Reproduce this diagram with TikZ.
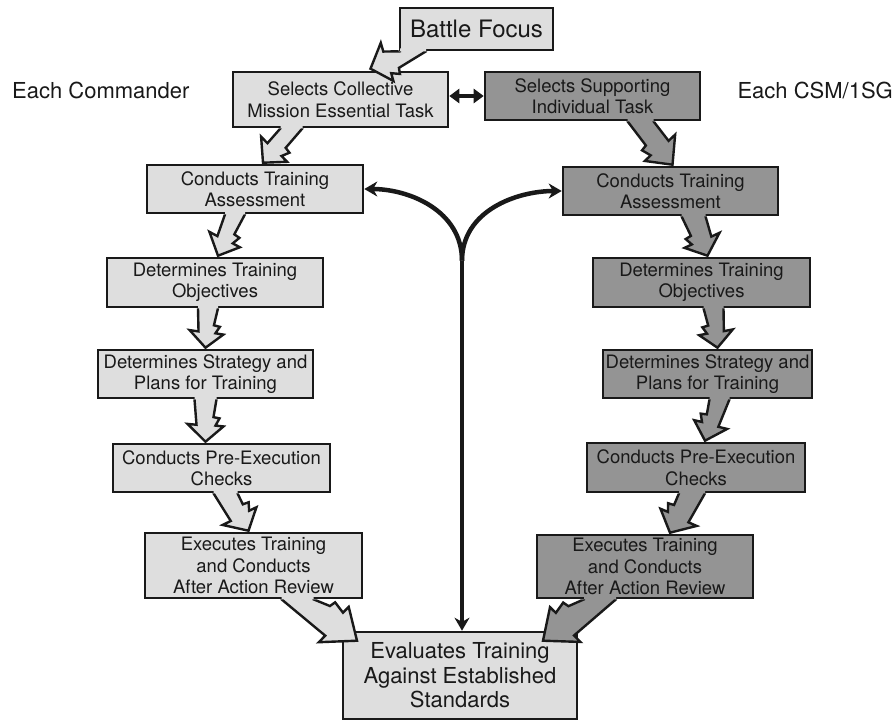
\documentclass[tikz,border=0pt]{standalone}
\usepackage{fontspec}
\setmainfont{TeX Gyre Heros}
\usepackage{tikz}
\usetikzlibrary{
  arrows.meta,
  positioning,
  calc
}
\usepackage{xcolor}
\definecolor{paleGray}{rgb}{0.87,0.87,0.87}
\definecolor{midGray}{rgb}{0.58,0.58,0.58}
\definecolor{inkBlack}{rgb}{0.1,0.1,0.1}
\tikzset{
  stepbox/.style={
    draw=inkBlack,
    line width=2.6pt,
    align=center,
    inner sep=0pt,
    text=inkBlack,
    font=\fontsize{18.5}{21.5}\selectfont
  },
  paleBox/.style={stepbox, fill=paleGray},
  darkBox/.style={stepbox, fill=midGray},
  flowLine/.style={draw=inkBlack, line width=4.5pt}
}

% one point of a zigzag arrow: fraction along, offset sideways, name
\newcommand{\zpoint}[3]{%
  \coordinate (zt) at ($(za)!#1!(zb)$);
  \coordinate (#3) at ($(zt)!#2!90:(zb)$);
}
% zigzag block arrow: fill, from node, base shift, to node, tip shift, half width, side
\newcommand{\zigarrow}[7]{%
  \coordinate (za) at ($(#2.south)+(#3)$);
  \coordinate (zb) at ($(#4.north)+(#5)$);
  \pgfmathsetmacro\zA{-(#7)*(#6)}
  \pgfmathsetmacro\zB{(#7)*(-(#6)+2)}
  \pgfmathsetmacro\zC{(#7)*(-(#6)-7)}
  \pgfmathsetmacro\zE{(#7)*((#6)+7)}
  \pgfmathsetmacro\zF{(#7)*((#6)-1)}
  \pgfmathsetmacro\zG{(#7)*((#6)+3)}
  \pgfmathsetmacro\zH{(#7)*((#6)-3)}
  \pgfmathsetmacro\zI{(#7)*(#6)}
  % base sits flat on the bottom edge of the box
  \coordinate (zA0) at ($(za)+(\zA,-3)$);
  \coordinate (zA) at ($(za)+(\zA,0)$);
  \zpoint{0.6}{\zB pt}{zB}
  \zpoint{0.58}{\zC pt}{zC}
  \zpoint{0.64}{\zE pt}{zE}
  \zpoint{0.62}{\zF pt}{zF}
  \zpoint{0.45}{\zG pt}{zG}
  \zpoint{0.42}{\zH pt}{zH}
  \coordinate (zI) at ($(za)+(\zI,0)$);
  \coordinate (zI0) at ($(za)+(\zI,-3)$);
  \fill[#1] (zA0) -- (zA) -- (zB) -- (zC) -- (zb) -- (zE) -- (zF)
    -- (zG) -- (zH) -- (zI) -- (zI0) -- cycle;
  \begin{scope}[even odd rule]
    \clip (-20,-20) rectangle (916,743)
      (#2.south west) rectangle (#2.north east);
    \draw[inkBlack, line width=2.4pt] (zA0) -- (zA) -- (zB) -- (zC) -- (zb)
      -- (zE) -- (zF) -- (zG) -- (zH) -- (zI) -- (zI0) -- cycle;
  \end{scope}
}

\begin{document}
\begin{tikzpicture}[
    x=1pt, y=-1pt,
    >=Stealth,
    bigHead/.style={-{Stealth[length=13pt,width=15pt]}}
  ]
  \useasboundingbox (0,0) rectangle (896,723);

  % side labels
  \node[anchor=base west, inner sep=0pt, font=\fontsize{22}{26}\selectfont, text=inkBlack]
    (cmdr) at (12,98) {Each Commander};
  \node[anchor=base east, inner sep=0pt, font=\fontsize{22}{26}\selectfont, text=inkBlack]
    (csm) at (893,98) {Each CSM/1SG};

  % boxes
  \node[paleBox, minimum width=153pt, minimum height=42pt,
    font=\fontsize{24}{28}\selectfont] (bf) at (476.5,29) {Battle Focus};
  \node[paleBox, minimum width=215pt, minimum height=55pt]
    (sc1) at (340.5,99.5) {Selects Collective\\Mission Essential Task};
  \node[darkBox, minimum width=215pt, minimum height=48pt]
    (ss2) at (592.5,96) {Selects Supporting\\Individual Task};

  \foreach \name/\style/\cx/\cy/\w/\h/\txt in {
      cta1/paleBox/255/189/216/48/{Conducts Training\\Assessment},
      dto1/paleBox/215/282.5/216/49/{Determines Training\\Objectives},
      dsp1/paleBox/205.5/374/215/48/{Determines Strategy and\\Plans for Training},
      pre1/paleBox/221.5/468/217/48/{Conducts Pre-Execution\\Checks},
      exe1/paleBox/253.5/565.5/217/65/{Executes Training\\and Conducts\\After Action Review},
      cta2/darkBox/670.5/191/215/48/{Conducts Training\\Assessment},
      dto2/darkBox/701.5/282.5/217/49/{Determines Training\\Objectives},
      dsp2/darkBox/707.5/374/209/48/{Determines Strategy and\\Plans for Training},
      pre2/darkBox/696/467.5/218/49/{Conducts Pre-Execution\\Checks},
      exe2/darkBox/645/566.5/216/63/{Executes Training\\and Conducts\\After Action Review}}{
    \node[\style, minimum width=\w pt, minimum height=\h pt] (\name) at (\cx,\cy) {\txt};
  }

  \node[paleBox, minimum width=234pt, minimum height=87pt,
    font=\fontsize{22}{24.5}\selectfont]
    (eval) at (460,675.5) {Evaluates Training\\Against Established\\Standards};

  % zigzag arrows
  \zigarrow{paleGray}{bf}{-63.5,0}{sc1}{30,-2}{13}{1}
  \foreach \src/\bx/\tgt/\tx/\hw in {
      sc1/-49/cta1/8/11, cta1/-20/dto1/3/10, dto1/-7/dsp1/0/10,
      dsp1/0/pre1/-16/11, pre1/4/exe1/-5/12}{
    \zigarrow{paleGray}{\src}{\bx,0}{\tgt}{\tx,-1}{\hw}{1}
  }
  \foreach \src/\bx/\tgt/\tx/\hw in {
      ss2/48/cta2/2/13, cta2/23/dto2/6/12, dto2/12/dsp2/10/10,
      dsp2/12/pre2/9/10, pre2/-4/exe2/25/13}{
    \zigarrow{midGray}{\src}{\bx,0}{\tgt}{\tx,-1}{\hw}{-1}
  }
  \zigarrow{paleGray}{exe1}{44,0}{eval}{-103,10}{16}{1}
  \zigarrow{midGray}{exe2}{-45,0}{eval}{83,10}{16}{-1}

  % link between the two selections
  \draw[inkBlack, line width=4pt,
    {Triangle[length=10pt,width=14pt]}-{Triangle[length=10pt,width=14pt]}]
    (sc1.east |- ss2.west) -- (ss2.west);

  % feedback from evaluation
  \coordinate (fork) at ($(eval.north)+(2,-370)$);
  \draw[flowLine, bigHead] (fork) -- (fork |- eval.north);
  \draw[flowLine, bigHead] (fork) .. controls ($(fork)+(0,-50)$)
    and ($(cta1.east)+(45,0)$) .. (cta1.east);
  \draw[flowLine, bigHead] (fork) .. controls ($(fork)+(0,-50)$)
    and ($(cta2.west)+(-45,0)$) .. (cta2.west);
\end{tikzpicture}
\end{document}
